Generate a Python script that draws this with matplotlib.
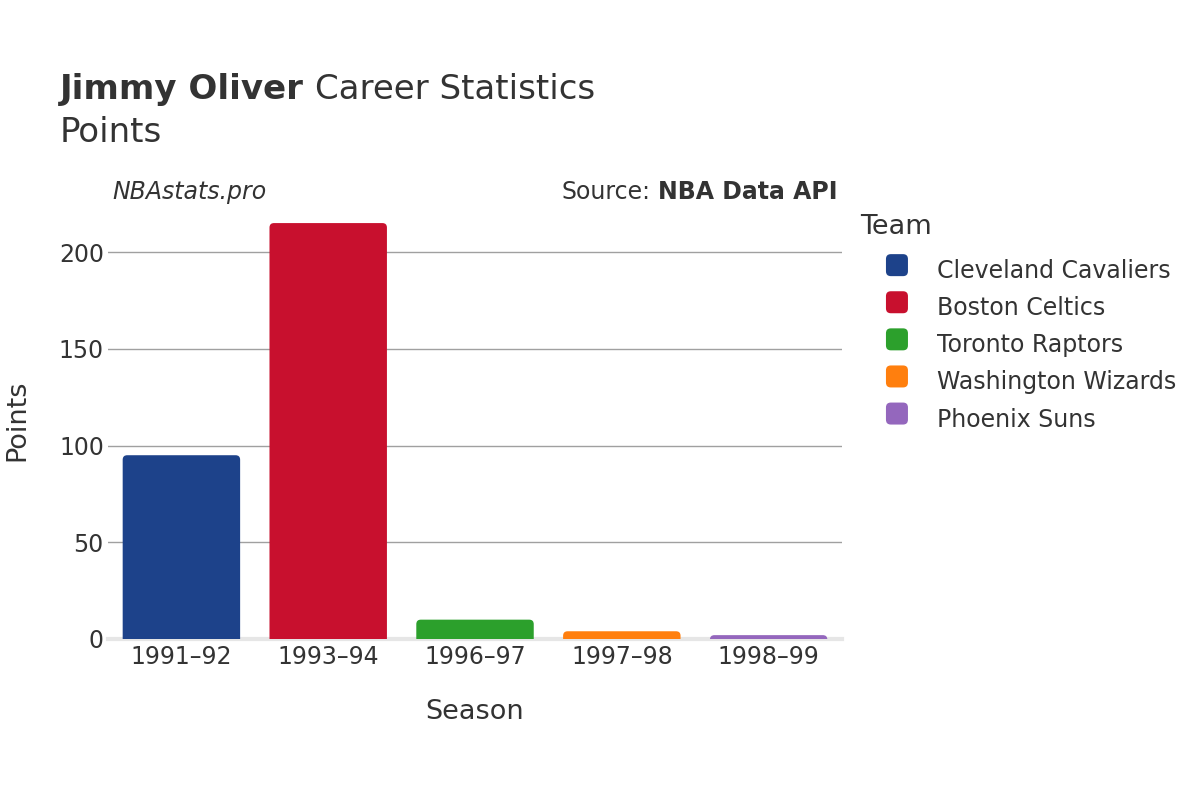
import matplotlib
matplotlib.use("Agg")
import matplotlib.pyplot as plt
from matplotlib.patches import FancyBboxPatch
from matplotlib.legend_handler import HandlerPatch
from matplotlib.patches import Rectangle

# -- data
seasons = ["1991\u201392", "1993\u201394", "1996\u201397", "1997\u201398", "1998\u201399"]
teams   = ["Cleveland Cavaliers", "Boston Celtics", "Toronto Raptors",
           "Washington Wizards", "Phoenix Suns"]
points  = [95, 215, 10, 4, 2]
colors  = ["#1d428a", "#c8102e", "#2ca02c", "#ff7f0e", "#9467bd"]

txt = "#333333"
plt.rcParams["font.family"] = ["DejaVu Sans"]

W, H = 1200, 800
fig = plt.figure(figsize=(12, 8), dpi=100)
ax_l, ax_b, ax_w, ax_h = 0.09, 0.20125, 0.6117, 0.5465
ax = fig.add_axes([ax_l, ax_b, ax_w, ax_h])

x = list(range(len(seasons)))
ymax = 226
ax.set_xlim(-0.5, len(seasons) - 0.5)
ax.set_ylim(0, ymax)

# -- px -> data conversion for the rounded corners
px_x = len(seasons) / (ax_w * W)
px_y = ymax / (ax_h * H)
r = 4.5

bars = ax.bar(x, points, width=0.8, color=colors, alpha=0)
for b, c in zip(bars, colors):
    rx = r * px_x
    ry = r * px_y
    p = FancyBboxPatch((b.get_x(), -ry), b.get_width(), b.get_height() + ry,
                       boxstyle="round,pad=0,rounding_size={0}".format(rx),
                       mutation_aspect=ry / rx, facecolor=c, edgecolor="none",
                       zorder=3, clip_on=True)
    ax.add_patch(p)

# -- grid and zero line
for v in [50, 100, 150, 200]:
    ax.axhline(v, color="#a0a0a0", lw=1, zorder=1)
ax.axhline(0, color="#e6e6e6", lw=3, zorder=2, clip_on=False)

for s in ax.spines.values():
    s.set_visible(False)
ax.set_yticks([0, 50, 100, 150, 200])
ax.set_xticks(x)
ax.set_xticklabels(seasons)
ax.tick_params(axis="both", length=0, labelsize=17, colors=txt)
ax.tick_params(axis="x", pad=4)
ax.tick_params(axis="y", pad=3)
ax.set_xlabel("Season", fontsize=19.5, color=txt, labelpad=22)
ax.set_ylabel("Points", fontsize=19.5, color=txt)
ax.yaxis.label.set_verticalalignment("center")
ax.yaxis.set_label_coords((17 - ax_l * W) / (ax_w * W), 0.5)

# -- titles
fig.canvas.draw()
rend = fig.canvas.get_renderer()
t1 = fig.text(0.05, 0.888, "Jimmy Oliver", fontsize=24.5, fontweight="bold",
              color=txt, va="center")
bb = t1.get_window_extent(rend)
fig.text(bb.x1 / W + 0.009, 0.888, "Career Statistics", fontsize=24.5,
         color=txt, va="center")
fig.text(0.05, 0.835, "Points", fontsize=24.5, color=txt, va="center")
fig.text(0.094, 0.76, "NBAstats.pro", fontsize=17, style="italic",
         color=txt, va="center")
src = fig.text(0.698, 0.76, "NBA Data API", fontsize=17, fontweight="bold",
               color=txt, va="center", ha="right")
bb = src.get_window_extent(rend)
fig.text(bb.x0 / W - 0.006, 0.76, "Source:", fontsize=17, color=txt,
         va="center", ha="right")


# -- legend with rounded swatches
class RoundHandler(HandlerPatch):
    def create_artists(self, legend, orig, xd, yd, width, height, fontsize, trans):
        s = 22 * 72 / 100.0
        p = FancyBboxPatch((xd + (width - s) / 2, yd + (height - s) / 2), s, s,
                           boxstyle="round,pad=0,rounding_size=3.5",
                           facecolor=orig.get_facecolor(), edgecolor="none",
                           transform=trans)
        return [p]


handles = [Rectangle((0, 0), 1, 1, facecolor=c) for c in colors]
leg = fig.legend(handles, teams, loc="upper left",
                 bbox_to_anchor=(860 / W, 0.733), frameon=False,
                 title="Team", fontsize=17, title_fontsize=19.5,
                 handler_map={Rectangle: RoundHandler()},
                 handlelength=3.13, handleheight=1.0,
                 handletextpad=0.13, labelspacing=0.555, borderpad=0,
                 borderaxespad=0)
leg._legend_box.align = "left"
leg._legend_box.sep = 14.1
for t in leg.get_texts():
    t.set_color(txt)
leg.get_title().set_color(txt)

fig.savefig("out.png", dpi=100)
